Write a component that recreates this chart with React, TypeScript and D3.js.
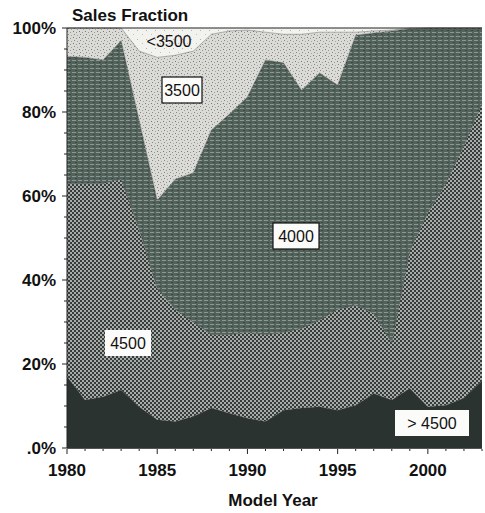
import React from "react";
import * as d3 from "d3";

const years = [1980,1981,1982,1983,1984,1985,1986,1987,1988,1989,1990,1991,1992,1993,1994,1995,1996,1997,1998,1999,2000,2001,2002,2003];
// sales share (%) by inertia weight class
const over4500 = [17,11.4,12.2,13.8,9.8,6.7,6.3,7.5,9.5,8.3,7.1,6.3,9,9.5,9.8,9,10.2,13,11.4,14.2,9.8,10.2,11.9,16];
const w4500 = [46,51.6,50.8,50.2,42.2,31.3,26.7,22.5,17.5,18.7,20.4,20.7,18.5,19,20.7,24,23.8,19,13.6,32.8,46.2,52.8,60.1,66];
const w4000 = [30.2,30,29.4,33,26,21,31,35.5,48.7,52.5,56.1,65.4,64.2,56.7,58.8,53.4,64.3,66.8,74.3,52.8,44,37,28,18];
const w3500 = [6.8,7,7.6,3,16.5,34,29.5,29,22.8,19.8,15.9,6.6,6.8,13.3,9.7,12.6,0.7,0.5,0.2,0.2,0,0,0,0];
const under3500 = [0,0,0,0,5.5,7,6.5,5.5,1.5,0.7,0.5,1,1.5,1.5,1,1,1,0.7,0.5,0,0,0,0,0];

const seriesKeys = [">4500", "4500", "4000", "3500", "<3500"];
const yTicks = [0, 20, 40, 60, 80, 100];
const yTickLabels = [".0%", "20%", "40%", "60%", "80%", "100%"];
const xTicks = [1980, 1985, 1990, 1995, 2000];

const rows = years.map((y, i) => ({
  year: y,
  ">4500": over4500[i],
  "4500": w4500[i],
  "4000": w4000[i],
  "3500": w3500[i],
  "<3500": under3500[i],
}));

const fills: Record<string, string> = {
  ">4500": "#2a3330",
  "4500": "url(#pat4500)",
  "4000": "url(#pat4000)",
  "3500": "url(#pat3500)",
  "<3500": "url(#patLt)",
};

export default function App() {
  const W = 485, H = 513;
  const x = d3.scaleLinear().domain([1980, 2003]).range([67, 482]);
  const y = d3.scaleLinear().domain([0, 100]).range([448, 28]);
  const stack = d3.stack<any>().keys(seriesKeys);
  const layers = stack(rows);
  const area = d3
    .area<any>()
    .x((d) => x(d.data.year))
    .y0((d) => y(d[0]))
    .y1((d) => y(Math.min(100, d[1])));

  const font = "'Liberation Sans', Arial, sans-serif";
  const minorY = d3.range(0, 101, 5);
  const minorX = d3.range(1980, 2004, 1);

  const labels = [
    { t: "<3500", cx: 169, cy: 41, box: false, border: false, w: 50 },
    { t: "3500", cx: 182, cy: 90, box: true, border: true, w: 40 },
    { t: "4000", cx: 296, cy: 236, box: true, border: true, w: 46 },
    { t: "4500", cx: 128, cy: 343, box: true, border: false, w: 46 },
    { t: "> 4500", cx: 432, cy: 423, box: true, border: false, w: 74 },
  ];

  return (
    <svg width={W} height={H} style={{ position: "absolute", left: 0, top: 0 }}>
      <defs>
        <pattern id="pat4500" width="4" height="4" patternUnits="userSpaceOnUse">
          <rect width="4" height="4" fill="#a8aca8" />
          <rect x="0" y="0" width="2" height="2" fill="#363c39" />
          <rect x="2" y="2" width="2" height="2" fill="#363c39" />
        </pattern>
        <pattern id="pat4000" width="6" height="4" patternUnits="userSpaceOnUse">
          <rect width="6" height="4" fill="#53635c" />
          <rect x="0" y="0" width="4" height="1" fill="#8a9892" />
          <rect x="3" y="2" width="2" height="1" fill="#3c4843" />
        </pattern>
        <pattern id="pat3500" width="6" height="6" patternUnits="userSpaceOnUse">
          <rect width="6" height="6" fill="#dadbd7" />
          <rect x="1" y="1" width="1" height="1" fill="#777a77" />
          <rect x="4" y="2" width="1" height="1" fill="#959794" />
          <rect x="2" y="4" width="1" height="1" fill="#858784" />
          <rect x="5" y="5" width="1" height="1" fill="#a2a4a1" />
        </pattern>
        <pattern id="patLt" width="9" height="9" patternUnits="userSpaceOnUse">
          <rect width="9" height="9" fill="#f2f2ef" />
          <rect x="2" y="3" width="1" height="1" fill="#b0b2af" />
          <rect x="7" y="7" width="1" height="1" fill="#bec0bd" />
        </pattern>
      </defs>

      {layers.map((layer) => (
        <path key={layer.key} d={area(layer) || ""} fill={fills[layer.key]} stroke="none" />
      ))}
      {layers.slice(0, 4).map((layer) => (
        <path
          key={"l" + layer.key}
          d={
            d3
              .line<any>()
              .x((d) => x(d.data.year))
              .y((d) => y(Math.min(100, d[1])))(layer) || ""
          }
          fill="none"
          stroke="#333"
          strokeWidth={0.6}
          opacity={0.6}
        />
      ))}

      <line x1={67} x2={482} y1={28} y2={28} stroke="#222" strokeWidth={1.2} />
      <line x1={67} x2={67} y1={28} y2={448} stroke="#222" strokeWidth={1} />
      <line x1={67} x2={482} y1={448.5} y2={448.5} stroke="#555" strokeWidth={1} />

      {minorY.map((v) => (
        <line key={"my" + v} x1={v % 20 === 0 ? 62 : 64} x2={67} y1={y(v)} y2={y(v)} stroke="#222" strokeWidth={1} />
      ))}
      {minorX.map((v) => (
        <line key={"mx" + v} x1={x(v)} x2={x(v)} y1={449} y2={v % 5 === 0 ? 454 : 451} stroke="#222" strokeWidth={1} />
      ))}

      {yTicks.map((v, i) => (
        <text key={"yt" + v} x={56} y={y(v) + 6} textAnchor="end" fontFamily={font} fontWeight="bold" fontSize={17} fill="#111">
          {yTickLabels[i]}
        </text>
      ))}
      {xTicks.map((v) => (
        <text key={"xt" + v} x={x(v)} y={476} textAnchor="middle" fontFamily={font} fontWeight="bold" fontSize={17} fill="#111">
          {v}
        </text>
      ))}
      <text x={72} y={21} fontFamily={font} fontWeight="bold" fontSize={17} fill="#111">
        Sales Fraction
      </text>
      <text x={273} y={506} textAnchor="middle" fontFamily={font} fontWeight="bold" fontSize={17} fill="#111">
        Model Year
      </text>

      {labels.map((l) => (
        <g key={l.t}>
          {l.box && (
            <rect
              x={l.cx - l.w / 2}
              y={l.cy - 13}
              width={l.w}
              height={26}
              fill="#fbfbfa"
              stroke={l.border ? "#111" : "none"}
              strokeWidth={1.2}
            />
          )}
          <text x={l.cx} y={l.cy + 6} textAnchor="middle" fontFamily={font} fontSize={16} fill="#111">
            {l.t}
          </text>
        </g>
      ))}
    </svg>
  );
}
